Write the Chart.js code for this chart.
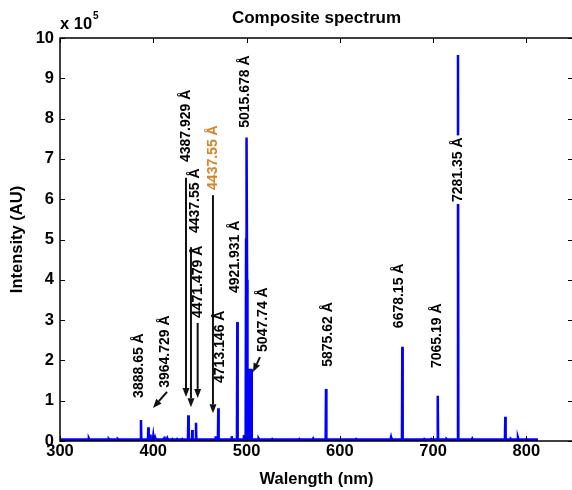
<!DOCTYPE html>
<html>
<head>
<meta charset="utf-8">
<script src="https://cdn.jsdelivr.net/npm/chart.js@4/dist/chart.umd.min.js"></script>
<style>
  html, body { margin: 0; padding: 0; background: #fff; overflow: hidden; }
</style>
</head>
<body>
<canvas id="spectrum" width="576" height="490"></canvas>
<script>
// Composite spectrum, wavelength in nm, intensity in units of 1e5
const wavelengths = [
  300,
  330.6, 331, 331.4,
  352, 352.4, 352.8,
  361.5, 362, 362.5,
  371, 371.4, 371.8,
  381.5, 382, 382.5,
  386.4, 386.8, 387.2,
  394.3, 394.7, 395.1,
  396.3, 396.7, 397.1,
  399.6, 400.0, 400.4,
  401.5, 402, 402.5,
  410.5, 411, 411.5, 412, 412.5,
  414.5, 415, 415.5,
  420, 420.5, 421,
  425, 425.5, 426,
  430.5, 431, 431.5,
  437.2, 437.6, 438.0,
  441.4, 441.8, 442.2,
  445.4, 445.8, 446.2,
  466.5, 466.9, 467.3,
  469.3, 469.7, 470.1,
  483.7, 484.1, 484.5,
  489.7, 490.1, 490.5,
  497.0, 497.3, 497.6,
  499.0, 499.5, 500.0, 500.6, 501.0, 505.2, 505.6,
  512.5, 513, 513.5,
  527, 527.5, 528,
  556, 556.5, 557,
  571, 571.5, 572,
  584.8, 585.2, 585.6,
  617, 617.5, 618,
  654.4, 654.9, 655.4,
  666.6, 667.0, 667.4,
  690, 690.5, 691,
  697.5, 698, 698.5,
  704.6, 705.0, 705.4,
  714, 714.5, 715,
  726.3, 726.7, 727.1,
  741.5, 742, 742.5,
  760, 760.5, 761,
  777.0, 777.4, 777.8,
  783, 783.5, 784,
  790.5, 791, 791.5,
  812.5
];
const intensities = [
  0.04,
  0.04, 0.06, 0.04,
  0.04, 0.05, 0.04,
  0.04, 0.05, 0.04,
  0.04, 0.06, 0.04,
  0.04, 0.05, 0.04,
  0.04, 0.52, 0.04,
  0.04, 0.34, 0.04,
  0.04, 0.16, 0.04,
  0.04, 0.12, 0.04,
  0.04, 0.08, 0.04,
  0.04, 0.08, 0.07, 0.08, 0.04,
  0.04, 0.07, 0.04,
  0.04, 0.05, 0.04,
  0.04, 0.05, 0.04,
  0.04, 0.05, 0.04,
  0.04, 0.64, 0.04,
  0.04, 0.27, 0.04,
  0.04, 0.45, 0.04,
  0.04, 0.12, 0.04,
  0.04, 0.81, 0.04,
  0.04, 0.12, 0.04,
  0.04, 2.95, 0.04,
  0.04, 0.15, 0.04,
  0.04, 5.0, 7.53, 4.0, 1.76, 1.76, 0.04,
  0.04, 0.06, 0.04,
  0.04, 0.05, 0.04,
  0.04, 0.05, 0.04,
  0.04, 0.06, 0.04,
  0.04, 1.29, 0.04,
  0.04, 0.05, 0.04,
  0.04, 0.09, 0.04,
  0.04, 2.34, 0.04,
  0.04, 0.05, 0.04,
  0.04, 0.05, 0.04,
  0.04, 1.12, 0.04,
  0.04, 0.05, 0.04,
  0.04, 9.58, 0.04,
  0.04, 0.06, 0.04,
  0.04, 0.05, 0.04,
  0.04, 0.60, 0.04,
  0.04, 0.05, 0.04,
  0.04, 0.08, 0.04,
  0.04
];
const xTicks = [300, 400, 500, 600, 700, 800];
const yTicks = [0, 1, 2, 3, 4, 5, 6, 7, 8, 9, 10];

const lineLabels = [
  '3888.65 Å', '3964.729 Å', '4387.929 Å', '4437.55 Å', '4471.479 Å', '4437.55 Å',
  '4713.146 Å', '4921.931 Å', '5015.678 Å', '5047.74 Å', '5875.62 Å', '6678.15 Å',
  '7065.19 Å', '7281.35 Å'
];
// where each rotated label starts (its bottom end), in axis units
const labelSpots = [
  { x: 384.7, y: 1.07 }, { x: 412.6, y: 1.32 }, { x: 435.1, y: 6.92 },
  { x: 444.7, y: 5.16 }, { x: 448.0, y: 3.05 }, { x: 464.0, y: 6.23, color: '#d4842a' },
  { x: 471.5, y: 1.44 }, { x: 487.6, y: 3.67 }, { x: 498.6, y: 7.77 },
  { x: 517.6, y: 2.21 }, { x: 587.3, y: 1.84 }, { x: 663.5, y: 2.80 },
  { x: 704.2, y: 1.81 }, { x: 726.7, y: 5.93, bg: true }
];
// arrows: from (x0,y0) to tip (x1,y1), axis units
const arrows = [
  [414.7, 1.22, 399.7, 0.82],
  [435.1, 6.53, 435.1, 1.09],
  [440.4, 4.81, 440.4, 0.84],
  [447.6, 2.93, 447.6, 1.07],
  [464.0, 6.10, 464.0, 0.69],
  [514.4, 2.08, 506.9, 1.71]
];

Chart.defaults.font.family = "'Liberation Sans', Arial, sans-serif";
Chart.defaults.color = '#000';

const points = wavelengths.map((w, i) => ({ x: w, y: intensities[i] }));

function arrow(ctx, x0, y0, x1, y1) {
  const a = Math.atan2(y1 - y0, x1 - x0);
  const len = 9, half = 3.5;
  const bx = x1 - len * Math.cos(a), by = y1 - len * Math.sin(a);
  ctx.beginPath();
  ctx.moveTo(x0, y0);
  ctx.lineTo(bx, by);
  ctx.stroke();
  ctx.beginPath();
  ctx.moveTo(x1, y1);
  ctx.lineTo(bx + half * Math.sin(a), by - half * Math.cos(a));
  ctx.lineTo(bx - half * Math.sin(a), by + half * Math.cos(a));
  ctx.closePath();
  ctx.fill();
}

const matlabAxes = {
  id: 'matlabAxes',
  afterDatasetsDraw(chart) {
    const ctx = chart.ctx;
    const { left, right, top, bottom } = chart.chartArea;
    const xs = chart.scales.x, ys = chart.scales.y;
    ctx.save();
    ctx.strokeStyle = '#000';
    ctx.lineWidth = 1.5;
    ctx.strokeRect(left, top, right - left, bottom - top);
    ctx.lineWidth = 1;
    ctx.beginPath();
    xTicks.forEach(v => {
      const px = Math.round(xs.getPixelForValue(v)) + 0.5;
      ctx.moveTo(px, bottom); ctx.lineTo(px, bottom - 5);
      ctx.moveTo(px, top); ctx.lineTo(px, top + 5);
    });
    yTicks.forEach(v => {
      const py = Math.round(ys.getPixelForValue(v)) + 0.5;
      ctx.moveTo(left, py); ctx.lineTo(left + 5, py);
      ctx.moveTo(right, py); ctx.lineTo(right - 5, py);
    });
    ctx.stroke();

    // exponent
    ctx.fillStyle = '#000';
    ctx.textBaseline = 'alphabetic';
    ctx.textAlign = 'left';
    ctx.font = "bold 16.5px 'Liberation Sans', Arial, sans-serif";
    ctx.fillText('x 10', left, 29);
    const w = ctx.measureText('x 10').width;
    ctx.font = "bold 10px 'Liberation Sans', Arial, sans-serif";
    ctx.fillText('5', left + w + 1, 19);

    // arrows
    ctx.strokeStyle = '#111';
    ctx.fillStyle = '#111';
    ctx.lineWidth = 2;
    arrows.forEach(a => {
      arrow(ctx, xs.getPixelForValue(a[0]), ys.getPixelForValue(a[1]),
        xs.getPixelForValue(a[2]), ys.getPixelForValue(a[3]));
    });

    // line labels
    ctx.font = "bold 14px 'Liberation Sans', Arial, sans-serif";
    ctx.textBaseline = 'middle';
    lineLabels.forEach((txt, i) => {
      const s = labelSpots[i];
      ctx.save();
      ctx.translate(xs.getPixelForValue(s.x), ys.getPixelForValue(s.y));
      ctx.rotate(-Math.PI / 2);
      if (s.bg) {
        ctx.fillStyle = '#fff';
        ctx.fillRect(-2, -8, ctx.measureText(txt).width + 4, 16);
      }
      ctx.fillStyle = s.color || '#000';
      ctx.fillText(txt, 0, 0);
      ctx.restore();
    });
    ctx.restore();
  }
};

new Chart(document.getElementById('spectrum'), {
  type: 'line',
  data: {
    datasets: [{
      data: points,
      borderColor: '#0000ff',
      backgroundColor: '#0000ff',
      borderWidth: 2.5,
      pointRadius: 0,
      tension: 0,
      fill: 'origin'
    }]
  },
  options: {
    responsive: false,
    animation: false,
    devicePixelRatio: 1,
    layout: { padding: { left: 0, right: 3, top: 0, bottom: 0 } },
    plugins: {
      legend: { display: false },
      tooltip: { enabled: false },
      title: {
        display: true,
        text: 'Composite spectrum',
        fullSize: false,
        color: '#000',
        font: { size: 17, weight: 'bold' },
        padding: { top: 8, bottom: 9.6 }
      }
    },
    scales: {
      x: {
        type: 'linear',
        min: 300,
        max: 850,
        afterBuildTicks: s => { s.ticks = xTicks.map(v => ({ value: v })); },
        afterFit: s => { s.height = 49; },
        grid: { display: false, drawTicks: false },
        border: { display: false },
        ticks: { color: '#000', font: { size: 16.5, weight: 'bold' }, padding: 1, maxRotation: 0 },
        title: {
          display: true,
          text: 'Walength (nm)',
          color: '#000',
          font: { size: 16.5, weight: 'bold' },
          padding: { top: 0, bottom: 1 }
        }
      },
      y: {
        min: 0,
        max: 10,
        afterBuildTicks: s => { s.ticks = yTicks.map(v => ({ value: v })); },
        afterFit: s => { s.width = 60; },
        grid: { display: false, drawTicks: false },
        border: { display: false },
        ticks: { color: '#000', font: { size: 16.5, weight: 'bold' }, padding: 6 },
        title: {
          display: true,
          text: 'Intensity (AU)',
          color: '#000',
          font: { size: 16.5, weight: 'bold' },
          padding: { top: 8, bottom: 0 }
        }
      }
    }
  },
  plugins: [matlabAxes]
});
</script>
</body>
</html>
